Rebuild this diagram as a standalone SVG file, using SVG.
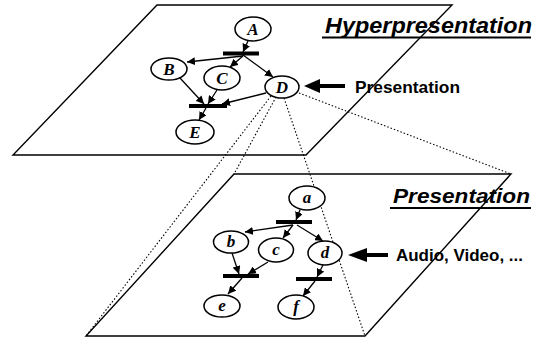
<svg xmlns="http://www.w3.org/2000/svg" width="542" height="341" viewBox="0 0 542 341">
<defs>
<marker id="ah" viewBox="0 0 10 10" refX="10" refY="5" markerWidth="8" markerHeight="8" markerUnits="userSpaceOnUse" orient="auto">
<path d="M0,0 L10,5 L0,10 z" fill="#000"/>
</marker>
<style>
.plane{fill:none;stroke:#000;stroke-width:1.4}
.dot{fill:none;stroke:#000;stroke-width:1.1;stroke-dasharray:1.5 2}
.nd ellipse{fill:#fff;stroke:#000;stroke-width:1.5}
.nd text{font-family:"Liberation Serif","Times New Roman",serif;font-weight:bold;font-style:italic;font-size:17px;text-anchor:middle}
.ar{stroke:#000;stroke-width:1.3;fill:none;marker-end:url(#ah)}
.bar{stroke:#000;stroke-width:3.8}
.lbl{font-family:"Liberation Sans",Arial,sans-serif;font-weight:bold}
</style>
</defs>
<rect width="542" height="341" fill="#fff"/>
<g id="planes">
<polygon class="plane" points="157,5 452,5 306,155 13,155"/>
<polygon class="plane" points="234,174 511,174 365,336 86,336"/>
</g>
<g id="projection">
<line class="dot" x1="271" y1="96" x2="86" y2="336"/>
<line class="dot" x1="276" y1="97" x2="234" y2="174"/>
<line class="dot" x1="284" y1="98" x2="365" y2="336"/>
<line class="dot" x1="299" y1="93" x2="511" y2="174"/>
</g>
<g id="connectors">
<line class="bar" x1="223" y1="53.5" x2="259" y2="53.5"/>
<line class="bar" x1="189" y1="106" x2="227" y2="106"/>
<line class="ar" x1="248" y1="41" x2="243" y2="52"/>
<line class="ar" x1="243" y1="56" x2="187" y2="62"/>
<line class="ar" x1="243" y1="56" x2="230" y2="67"/>
<line class="ar" x1="243" y1="55" x2="273" y2="77"/>
<line class="ar" x1="180" y1="78" x2="204" y2="104"/>
<line class="ar" x1="217" y1="90" x2="208" y2="104"/>
<line class="ar" x1="266" y1="93" x2="222" y2="104"/>
<line class="ar" x1="206" y1="108" x2="199" y2="120"/>
<line class="bar" x1="276" y1="222" x2="312" y2="222"/>
<line class="bar" x1="223" y1="276" x2="259" y2="276"/>
<line class="bar" x1="296" y1="279" x2="332" y2="279"/>
<line class="ar" x1="300" y1="210" x2="296" y2="220"/>
<line class="ar" x1="293" y1="225" x2="245" y2="232"/>
<line class="ar" x1="293" y1="225" x2="283" y2="238"/>
<line class="ar" x1="297" y1="225" x2="323" y2="241"/>
<line class="ar" x1="232" y1="253" x2="239" y2="274"/>
<line class="ar" x1="268" y1="262" x2="248" y2="274"/>
<line class="ar" x1="242" y1="278" x2="228" y2="294"/>
<line class="ar" x1="323" y1="265" x2="317" y2="277"/>
<line class="ar" x1="315" y1="281" x2="303" y2="296"/>
</g>
<g id="A" class="nd"><ellipse cx="253" cy="29" rx="18" ry="12"/><text x="253" y="35">A</text></g>
<g id="B" class="nd"><ellipse cx="169" cy="69" rx="18" ry="11"/><text x="169" y="75">B</text></g>
<g id="C" class="nd"><ellipse cx="222" cy="78" rx="18" ry="12"/><text x="222" y="84">C</text></g>
<g id="D" class="nd"><ellipse cx="282" cy="87" rx="17" ry="11"/><text x="282" y="93">D</text></g>
<g id="E" class="nd"><ellipse cx="195" cy="132" rx="19" ry="12"/><text x="195" y="138">E</text></g>
<g id="a" class="nd"><ellipse cx="307" cy="198" rx="18" ry="12"/><text x="307" y="203">a</text></g>
<g id="b" class="nd"><ellipse cx="231" cy="242" rx="17.5" ry="11"/><text x="231" y="247">b</text></g>
<g id="c" class="nd"><ellipse cx="276" cy="250" rx="17.5" ry="12"/><text x="276" y="255">c</text></g>
<g id="d" class="nd"><ellipse cx="325" cy="253" rx="17" ry="12"/><text x="325" y="258">d</text></g>
<g id="e" class="nd"><ellipse cx="222" cy="306" rx="18" ry="11"/><text x="222" y="311">e</text></g>
<g id="f" class="nd"><ellipse cx="296" cy="307" rx="18" ry="12"/><text x="296" y="312">f</text></g>
<g id="title-hyper">
<text class="lbl" x="325" y="33" font-size="22" font-style="italic" textLength="207" lengthAdjust="spacingAndGlyphs">Hyperpresentation</text>
<line x1="322" y1="37.5" x2="531" y2="37.5" stroke="#000" stroke-width="2"/>
</g>
<g id="title-pres">
<text class="lbl" x="393" y="203" font-size="20" font-style="italic" textLength="137" lengthAdjust="spacingAndGlyphs">Presentation</text>
<line x1="390" y1="208" x2="531" y2="208" stroke="#000" stroke-width="2"/>
</g>
<g id="note-pres">
<polygon points="304,86 320,79 320,84 345,84 345,88 320,88 320,93" fill="#000"/>
<text class="lbl" x="355" y="93" font-size="17" textLength="105" lengthAdjust="spacingAndGlyphs">Presentation</text>
</g>
<g id="note-av">
<polygon points="348,255 367,248 367,253 388,253 388,257 367,257 367,262" fill="#000"/>
<text class="lbl" x="396" y="261" font-size="17" textLength="127" lengthAdjust="spacingAndGlyphs">Audio, Video, ...</text>
</g>
</svg>
